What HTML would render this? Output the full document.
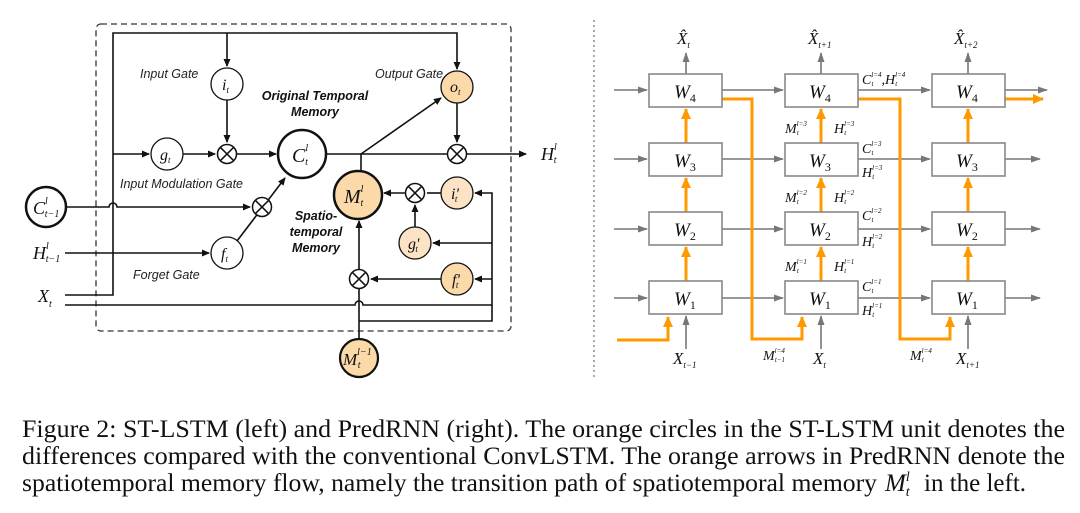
<!DOCTYPE html>
<html><head><meta charset="utf-8"><style>
html,body{margin:0;padding:0;background:#fff}
svg{display:block}
.it{font-family:"Liberation Serif",serif;font-style:italic}
.lab{font-family:"Liberation Sans",sans-serif;font-style:italic;font-size:12.5px;fill:#222}
.bl{font-family:"Liberation Sans",sans-serif;font-style:italic;font-weight:bold;font-size:12.5px;fill:#111}
.cap{font-family:"Liberation Serif",serif;font-size:25px;fill:#111}
</style></head><body>
<svg width="1080" height="513" viewBox="0 0 1080 513" xmlns="http://www.w3.org/2000/svg">
<defs>
<marker id="a" markerWidth="8" markerHeight="8" refX="7" refY="4" orient="auto" markerUnits="userSpaceOnUse"><path d="M0,0.5 L8,4 L0,7.5z" fill="#111"/></marker>
<marker id="g" markerWidth="10" markerHeight="8" refX="9" refY="4" orient="auto" markerUnits="userSpaceOnUse"><path d="M0,0.5 L10,4 L0,7.5z" fill="#777"/></marker>
<marker id="o" markerWidth="11" markerHeight="10" refX="10" refY="5" orient="auto" markerUnits="userSpaceOnUse"><path d="M0,0 L11,5 L0,10z" fill="#f90"/></marker>
</defs>
<!-- LEFT PANEL -->
<rect x="96" y="24" width="415" height="307" rx="5" fill="none" stroke="#333" stroke-width="1.3" stroke-dasharray="6,4"/>
<g stroke="#111" stroke-width="1.6" fill="none">
<path d="M65,295 H113 V33 H457 V69" marker-end="url(#a)"/>
<path d="M227,33 V66" marker-end="url(#a)"/>
<path d="M227,100 V142" marker-end="url(#a)"/>
<path d="M113,154 H149" marker-end="url(#a)"/>
<path d="M183,154 H215" marker-end="url(#a)"/>
<path d="M237,154 H276" marker-end="url(#a)"/>
<path d="M326,154 H447"/>
<path d="M467,154 H526" marker-end="url(#a)"/>
<path d="M457,103 V142" marker-end="url(#a)"/>
<path d="M361,154 L441,98" marker-end="url(#a)"/>
<path d="M361,154 V171"/>
<path d="M66,207 H109 A4,4 0 0 1 117,207 H250" marker-end="url(#a)"/>
<path d="M65,253 H209" marker-end="url(#a)"/>
<path d="M237,241 L285,178" marker-end="url(#a)"/>
<path d="M65,305 H355 A4,4 0 0 1 363,305 H492 V193 H475" marker-end="url(#a)"/>
<path d="M492,243 H433" marker-end="url(#a)"/>
<path d="M492,279 H475" marker-end="url(#a)"/>
<path d="M441,193 H427"/>
<path d="M405,193 H384" marker-end="url(#a)"/>
<path d="M415,227 V205" marker-end="url(#a)"/>
<path d="M441,279 H371" marker-end="url(#a)"/>
<path d="M359,339 V289"/>
<path d="M359,321 H492 V305"/>
<path d="M359,269 V221" marker-end="url(#a)"/>
</g>
<g stroke="#111" stroke-width="1.3">
<circle cx="227" cy="84" r="16" fill="#fff"/>
<circle cx="167" cy="154" r="16" fill="#fff"/>
<circle cx="227" cy="253" r="16" fill="#fff"/>
<circle cx="457" cy="87" r="16" fill="#fbd9a9"/>
<circle cx="457" cy="193" r="16" fill="#fde3c6"/>
<circle cx="415" cy="243" r="16" fill="#fde3c6"/>
<circle cx="457" cy="279" r="16" fill="#fbd9a9"/>
<circle cx="302" cy="154" r="24" fill="#fff" stroke-width="2.5"/>
<circle cx="46" cy="207" r="20" fill="#fff" stroke-width="2.5"/>
<circle cx="358" cy="195" r="24" fill="#fbd9a9" stroke-width="2.5"/>
<circle cx="359" cy="358" r="19" fill="#fbd9a9" stroke-width="2.2"/>
</g>
<g stroke="#111" stroke-width="1.5" fill="#fff">
<circle cx="227" cy="154" r="9.5"/><path d="M220.3,147.3 L233.7,160.7 M233.7,147.3 L220.3,160.7"/>
<circle cx="262" cy="207" r="9.5"/><path d="M255.3,200.3 L268.7,213.7 M268.7,200.3 L255.3,213.7"/>
<circle cx="457" cy="154" r="9.5"/><path d="M450.3,147.3 L463.7,160.7 M463.7,147.3 L450.3,160.7"/>
<circle cx="415" cy="193" r="9.5"/><path d="M408.3,186.3 L421.7,199.7 M421.7,186.3 L408.3,199.7"/>
<circle cx="359" cy="279" r="9.5"/><path d="M352.3,272.3 L365.7,285.7 M365.7,272.3 L352.3,285.7"/>
</g>
<g class="it" fill="#111">
<text x="222" y="90" font-size="16">i<tspan font-size="9" dy="3">t</tspan></text>
<text x="160" y="160" font-size="16">g<tspan font-size="9" dy="3">t</tspan></text>
<text x="221" y="259" font-size="16">f<tspan font-size="9" dy="3">t</tspan></text>
<text x="450" y="92" font-size="16">o<tspan font-size="9" dy="3">t</tspan></text>
<text x="451" y="199" font-size="16">i'<tspan font-size="9" dy="3" dx="-4">t</tspan></text>
<text x="408" y="249" font-size="16">g'<tspan font-size="9" dy="3" dx="-4">t</tspan></text>
<text x="452" y="285" font-size="16">f'<tspan font-size="9" dy="3" dx="-4">t</tspan></text>
<text x="292" y="162" font-size="20">C<tspan font-size="10" dy="-11">l</tspan><tspan font-size="10" dy="14" dx="-3">t</tspan></text>
<text x="33" y="214" font-size="18">C<tspan font-size="10" dy="-10">l</tspan><tspan font-size="10" dy="13" dx="-3">t−1</tspan></text>
<text x="344" y="203" font-size="20">M<tspan font-size="10" dy="-11">l</tspan><tspan font-size="10" dy="14" dx="-3">t</tspan></text>
<text x="343" y="365" font-size="17">M<tspan font-size="10" dy="-10">l−1</tspan><tspan font-size="10" dy="13" dx="-14">t</tspan></text>
<text x="33" y="259" font-size="18">H<tspan font-size="10" dy="-10">l</tspan><tspan font-size="10" dy="13" dx="-3">t−1</tspan></text>
<text x="38" y="302" font-size="18">X<tspan font-size="10" dy="5">t</tspan></text>
<text x="541" y="160" font-size="18">H<tspan font-size="10" dy="-10">l</tspan><tspan font-size="10" dy="13" dx="-3">t</tspan></text>
</g>
<text class="lab" x="140" y="78">Input Gate</text>
<text class="lab" x="375" y="78">Output Gate</text>
<text class="lab" x="120" y="188">Input Modulation Gate</text>
<text class="lab" x="133" y="279">Forget Gate</text>
<text class="bl" x="315" y="100" text-anchor="middle">Original Temporal</text>
<text class="bl" x="315" y="116" text-anchor="middle">Memory</text>
<text class="bl" x="316" y="220" text-anchor="middle">Spatio-</text>
<text class="bl" x="316" y="236" text-anchor="middle">temporal</text>
<text class="bl" x="316" y="252" text-anchor="middle">Memory</text>
<!-- separator -->
<line x1="594" y1="20" x2="594" y2="380" stroke="#555" stroke-width="1" stroke-dasharray="2,3"/>
<!-- RIGHT PANEL -->
<g stroke="#777" stroke-width="1.6" fill="none">
<path d="M614,90 H647" marker-end="url(#g)"/><path d="M722,90 H783" marker-end="url(#g)"/><path d="M858,90 H930" marker-end="url(#g)"/><path d="M1005,90 H1047" marker-end="url(#g)"/>
<path d="M614,159 H647" marker-end="url(#g)"/><path d="M722,159 H783" marker-end="url(#g)"/><path d="M858,159 H930" marker-end="url(#g)"/><path d="M1005,159 H1040" marker-end="url(#g)"/>
<path d="M614,229 H647" marker-end="url(#g)"/><path d="M722,229 H783" marker-end="url(#g)"/><path d="M858,229 H930" marker-end="url(#g)"/><path d="M1005,229 H1040" marker-end="url(#g)"/>
<path d="M614,298 H647" marker-end="url(#g)"/><path d="M722,298 H783" marker-end="url(#g)"/><path d="M858,298 H930" marker-end="url(#g)"/><path d="M1005,298 H1040" marker-end="url(#g)"/>
<path d="M686,74 V53" marker-end="url(#g)"/><path d="M821,74 V53" marker-end="url(#g)"/><path d="M968,74 V53" marker-end="url(#g)"/>
<path d="M686,349 V316" marker-end="url(#g)"/><path d="M821,349 V316" marker-end="url(#g)"/><path d="M968,349 V316" marker-end="url(#g)"/>
</g>
<g stroke="#f90" stroke-width="3" fill="none">
<path d="M1005,99 H1043" marker-end="url(#o)"/>
<path d="M722,99 H752 V339 H802 V317" marker-end="url(#o)"/>
<path d="M858,99 H900 V339 H950 V317" marker-end="url(#o)"/>
<path d="M617,340 H668 V317" marker-end="url(#o)"/>
<path d="M686,143 V109" marker-end="url(#o)"/><path d="M686,212 V178" marker-end="url(#o)"/><path d="M686,281 V247" marker-end="url(#o)"/>
<path d="M821,143 V109" marker-end="url(#o)"/><path d="M821,212 V178" marker-end="url(#o)"/><path d="M821,281 V247" marker-end="url(#o)"/>
<path d="M968,143 V109" marker-end="url(#o)"/><path d="M968,212 V178" marker-end="url(#o)"/><path d="M968,281 V247" marker-end="url(#o)"/>
</g>
<g stroke="#888" stroke-width="1.6" fill="#fff">
<rect x="649" y="74" width="73" height="33"/><rect x="785" y="74" width="73" height="33"/><rect x="932" y="74" width="73" height="33"/>
<rect x="649" y="143" width="73" height="33"/><rect x="785" y="143" width="73" height="33"/><rect x="932" y="143" width="73" height="33"/>
<rect x="649" y="212" width="73" height="33"/><rect x="785" y="212" width="73" height="33"/><rect x="932" y="212" width="73" height="33"/>
<rect x="649" y="281" width="73" height="33"/><rect x="785" y="281" width="73" height="33"/><rect x="932" y="281" width="73" height="33"/>
</g>
<g class="it" fill="#111" font-size="19">
<text x="674" y="98">W<tspan font-size="12" dy="4" font-style="normal">4</tspan></text><text x="809" y="98">W<tspan font-size="12" dy="4" font-style="normal">4</tspan></text><text x="956" y="98">W<tspan font-size="12" dy="4" font-style="normal">4</tspan></text>
<text x="674" y="167">W<tspan font-size="12" dy="4" font-style="normal">3</tspan></text><text x="809" y="167">W<tspan font-size="12" dy="4" font-style="normal">3</tspan></text><text x="956" y="167">W<tspan font-size="12" dy="4" font-style="normal">3</tspan></text>
<text x="674" y="236">W<tspan font-size="12" dy="4" font-style="normal">2</tspan></text><text x="809" y="236">W<tspan font-size="12" dy="4" font-style="normal">2</tspan></text><text x="956" y="236">W<tspan font-size="12" dy="4" font-style="normal">2</tspan></text>
<text x="674" y="305">W<tspan font-size="12" dy="4" font-style="normal">1</tspan></text><text x="809" y="305">W<tspan font-size="12" dy="4" font-style="normal">1</tspan></text><text x="956" y="305">W<tspan font-size="12" dy="4" font-style="normal">1</tspan></text>
<text x="677" y="44" font-size="17">X̂<tspan font-size="9" dy="4">t</tspan></text>
<text x="808" y="44" font-size="17">X̂<tspan font-size="9" dy="4">t+1</tspan></text>
<text x="954" y="44" font-size="17">X̂<tspan font-size="9" dy="4">t+2</tspan></text>
<text x="673" y="364" font-size="17">X<tspan font-size="9" dy="4">t−1</tspan></text>
<text x="813" y="364" font-size="17">X<tspan font-size="9" dy="4">t</tspan></text>
<text x="956" y="364" font-size="17">X<tspan font-size="9" dy="4">t+1</tspan></text>
</g>
<g class="it" fill="#111" font-size="14">
<text x="763" y="360">M<tspan font-size="7" dy="-7">l=4</tspan><tspan font-size="7" dy="9" dx="-10">t−1</tspan></text>
<text x="910" y="360">M<tspan font-size="7" dy="-7">l=4</tspan><tspan font-size="7" dy="9" dx="-10">t</tspan></text>
<text x="862" y="84">C<tspan font-size="7" dy="-7">l=4</tspan><tspan font-size="7" dy="9" dx="-10">t</tspan><tspan dy="-2" dx="8">,H</tspan><tspan font-size="7" dy="-7">l=4</tspan><tspan font-size="7" dy="9" dx="-10">t</tspan></text>
<text x="785" y="133">M<tspan font-size="7" dy="-7">l=3</tspan><tspan font-size="7" dy="9" dx="-10">t</tspan></text>
<text x="834" y="133">H<tspan font-size="7" dy="-7">l=3</tspan><tspan font-size="7" dy="9" dx="-10">t</tspan></text>
<text x="785" y="202">M<tspan font-size="7" dy="-7">l=2</tspan><tspan font-size="7" dy="9" dx="-10">t</tspan></text>
<text x="834" y="202">H<tspan font-size="7" dy="-7">l=2</tspan><tspan font-size="7" dy="9" dx="-10">t</tspan></text>
<text x="785" y="271">M<tspan font-size="7" dy="-7">l=1</tspan><tspan font-size="7" dy="9" dx="-10">t</tspan></text>
<text x="834" y="271">H<tspan font-size="7" dy="-7">l=1</tspan><tspan font-size="7" dy="9" dx="-10">t</tspan></text>
<text x="862" y="153">C<tspan font-size="7" dy="-7">l=3</tspan><tspan font-size="7" dy="9" dx="-10">t</tspan></text>
<text x="862" y="177">H<tspan font-size="7" dy="-7">l=3</tspan><tspan font-size="7" dy="9" dx="-10">t</tspan></text>
<text x="862" y="220">C<tspan font-size="7" dy="-7">l=2</tspan><tspan font-size="7" dy="9" dx="-10">t</tspan></text>
<text x="862" y="246">H<tspan font-size="7" dy="-7">l=2</tspan><tspan font-size="7" dy="9" dx="-10">t</tspan></text>
<text x="862" y="291">C<tspan font-size="7" dy="-7">l=1</tspan><tspan font-size="7" dy="9" dx="-10">t</tspan></text>
<text x="862" y="315">H<tspan font-size="7" dy="-7">l=1</tspan><tspan font-size="7" dy="9" dx="-10">t</tspan></text>
</g>
<!-- CAPTION -->
<text class="cap" x="22" y="437" textLength="1043" lengthAdjust="spacingAndGlyphs">Figure 2: ST-LSTM (left) and PredRNN (right). The orange circles in the ST-LSTM unit denotes the</text>
<text class="cap" x="22" y="464" textLength="1043" lengthAdjust="spacingAndGlyphs">differences compared with the conventional ConvLSTM. The orange arrows in PredRNN denote the</text>
<text class="cap" x="22" y="491" textLength="855" lengthAdjust="spacingAndGlyphs">spatiotemporal memory flow, namely the transition path of spatiotemporal memory</text>
<text class="cap" x="885" y="491" font-style="italic">M<tspan font-size="14" dy="-10">l</tspan><tspan font-size="14" dy="15" dx="-4">t</tspan></text>
<text class="cap" x="924" y="491">in the left.</text>
</svg>
</body></html>
